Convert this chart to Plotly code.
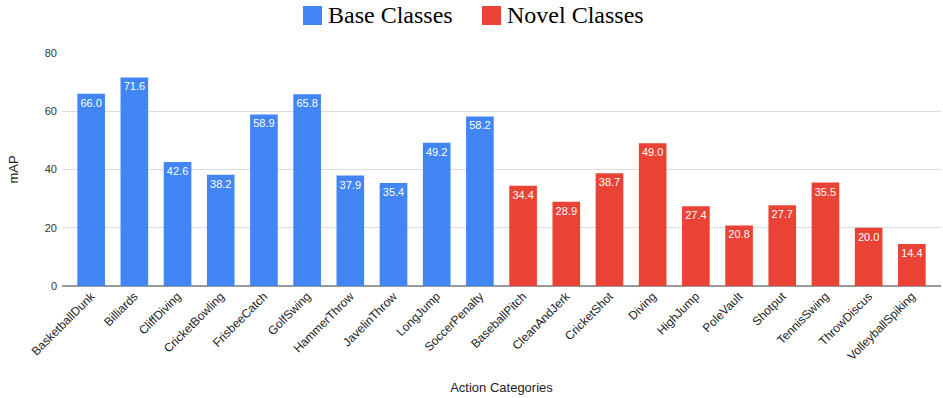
import plotly.graph_objects as go

base_categories = ["BasketballDunk", "Billiards", "CliffDiving", "CricketBowling", "FrisbeeCatch",
                   "GolfSwing", "HammerThrow", "JavelinThrow", "LongJump", "SoccerPenalty"]
base_values = [66.0, 71.6, 42.6, 38.2, 58.9, 65.8, 37.9, 35.4, 49.2, 58.2]

novel_categories = ["BaseballPitch", "CleanAndJerk", "CricketShot", "Diving", "HighJump",
                    "PoleVault", "Shotput", "TennisSwing", "ThrowDiscus", "VolleyballSpiking"]
novel_values = [34.4, 28.9, 38.7, 49.0, 27.4, 20.8, 27.7, 35.5, 20.0, 14.4]

y_ticks = [0, 20, 40, 60, 80]

BLUE = "#4285F4"
RED = "#EA4335"
SANS = "Liberation Sans, Arial, sans-serif"
SERIF = "Liberation Serif, Times New Roman, serif"

# plot-area geometry in pixels (used for the hand-drawn legend)
L, R, T, B, W, H = 62, 2, 53, 112, 943, 398
PW, PH = W - L - R, H - T - B

fig = go.Figure()
for name, cats, vals, color in [("Base Classes", base_categories, base_values, BLUE),
                                ("Novel Classes", novel_categories, novel_values, RED)]:
    fig.add_trace(go.Bar(
        x=cats, y=vals, name=name,
        marker=dict(color=color, line=dict(width=0)),
        text=[f"{v:.1f}" for v in vals],
        textposition="inside", insidetextanchor="end",
        textangle=0,
        textfont=dict(color="white", size=11, family=SANS),
        showlegend=False,
    ))

# Legend drawn as large swatches with serif labels
legend_items = [("Base Classes", BLUE, 303), ("Novel Classes", RED, 482)]
for label, color, x0 in legend_items:
    fig.add_shape(type="rect", xref="paper", yref="paper",
                  x0=(x0 - L) / PW, x1=(x0 + 19 - L) / PW,
                  y0=(H - B - 25) / PH, y1=(H - B - 6) / PH,
                  fillcolor=color, line=dict(width=0))
    fig.add_annotation(xref="paper", yref="paper",
                       x=(x0 + 23 - L) / PW, y=(H - B - 15.5) / PH,
                       text=label, showarrow=False, xanchor="left", yanchor="middle",
                       font=dict(family=SERIF, size=24, color="#000"))

n = len(base_categories) + len(novel_categories)
pad = 0.175
fig.update_layout(
    width=W, height=H,
    margin=dict(l=L, r=R, t=T, b=B),
    paper_bgcolor="white", plot_bgcolor="white",
    barmode="overlay", bargap=0.36,
    uniformtext=dict(minsize=11, mode="show"),
    xaxis=dict(
        categoryorder="array", categoryarray=base_categories + novel_categories,
        range=[-0.5 - pad, n - 0.5 + pad],
        tickangle=-45, tickfont=dict(family=SANS, size=12, color="#222"),
        title=dict(text="Action Categories", font=dict(family=SANS, size=13, color="#222"), standoff=20),
        showgrid=False, showline=False, ticks="",
        automargin=False,
    ),
    yaxis=dict(
        range=[0, 80], tickvals=y_ticks,
        tickfont=dict(family=SANS, size=11, color="#333"),
        title=dict(text="mAP", font=dict(family=SANS, size=13, color="#222"), standoff=23),
        gridcolor="#dcdcdc", gridwidth=1,
        zeroline=True, zerolinecolor="#999", zerolinewidth=1.5,
        ticks="", showline=False, ticklabelstandoff=4,
        automargin=False,
    ),
)

fig.write_html("out.html")
